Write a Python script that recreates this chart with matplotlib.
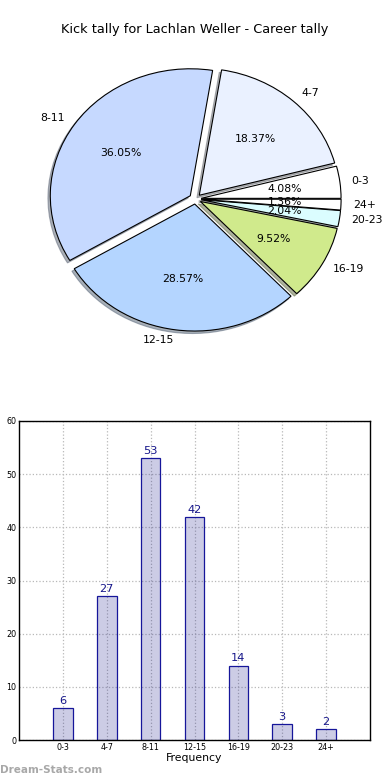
import matplotlib
matplotlib.use("Agg")
import matplotlib.pyplot as plt

categories = ["0-3", "4-7", "8-11", "12-15", "16-19", "20-23", "24+"]
values = [6, 27, 53, 42, 14, 3, 2]
pie_colors = ["#ffffff", "#eaf1ff", "#c6d9ff", "#b4d5ff", "#d0ea8c", "#dbfdff", "#ffffff"]
explode = [0.04, 0.04, 0.045, 0.04, 0.04, 0.04, 0.04]
yticks = [0, 10, 20, 30, 40, 50, 60]
title = "Kick tally for Lachlan Weller - Career tally"

W, H = 390, 780
fig = plt.figure(figsize=(W / 100, H / 100), dpi=100)

# Pie axes (elliptical pie, as in the reference)
cx, cy, rx, ry = 195.5, 199, 140, 127
L = 1.3
ax1 = fig.add_axes([(cx - L * rx) / W, (H - cy - L * ry) / H, 2 * L * rx / W, 2 * L * ry / H])
wedges, texts, autotexts = ax1.pie(values, labels=categories, colors=pie_colors, explode=explode,
                                   autopct="%1.2f%%", labeldistance=1.085,
                                   shadow=dict(ox=-0.012, oy=-0.014, shade=0.55),
                                   startangle=0,
                                   wedgeprops=dict(edgecolor="black", linewidth=0.8),
                                   textprops=dict(fontsize=7.8, color="black"))
ax1.set_aspect("auto")
ax1.set_xlim(-L, L)
ax1.set_ylim(-L, L)
ax1.axis("off")
fig.text(0.5, 1 - 30 / H, title, ha="center", va="center", fontsize=9.3)

# Bar axes
ax2 = fig.add_axes([19 / W, 40 / H, (370 - 19) / W, (740 - 421) / H])
x = list(range(len(categories)))
bars = ax2.bar(x, values, width=0.45, color=(0.1, 0.1, 0.55, 0.22), edgecolor="#16169a", linewidth=0.9, zorder=2)
for xi, v in zip(x, values):
    ax2.text(xi, v + 0.4, str(v), ha="center", va="bottom", fontsize=8.2, color="#16168a")
ax2.set_xlim(-1, 7)
ax2.set_ylim(0, 60)
ax2.set_yticks(yticks)
ax2.set_xticks(x)
ax2.set_xticklabels(categories)
ax2.tick_params(length=0, labelsize=5.8, pad=2)
ax2.grid(True, linestyle=":", color="#b8b8b8", linewidth=0.9, zorder=1)
ax2.set_axisbelow(True)
ax2.set_xlabel("Frequency", fontsize=7.8, labelpad=1)
for s in ax2.spines.values():
    s.set_linewidth(1.0)

fig.text(0.0, 1 - 770 / H, "Dream-Stats.com", ha="left", va="center", fontsize=7.5,
         color="#a8a8a8", fontweight="bold")

fig.savefig("out.png", dpi=100, facecolor="white")
